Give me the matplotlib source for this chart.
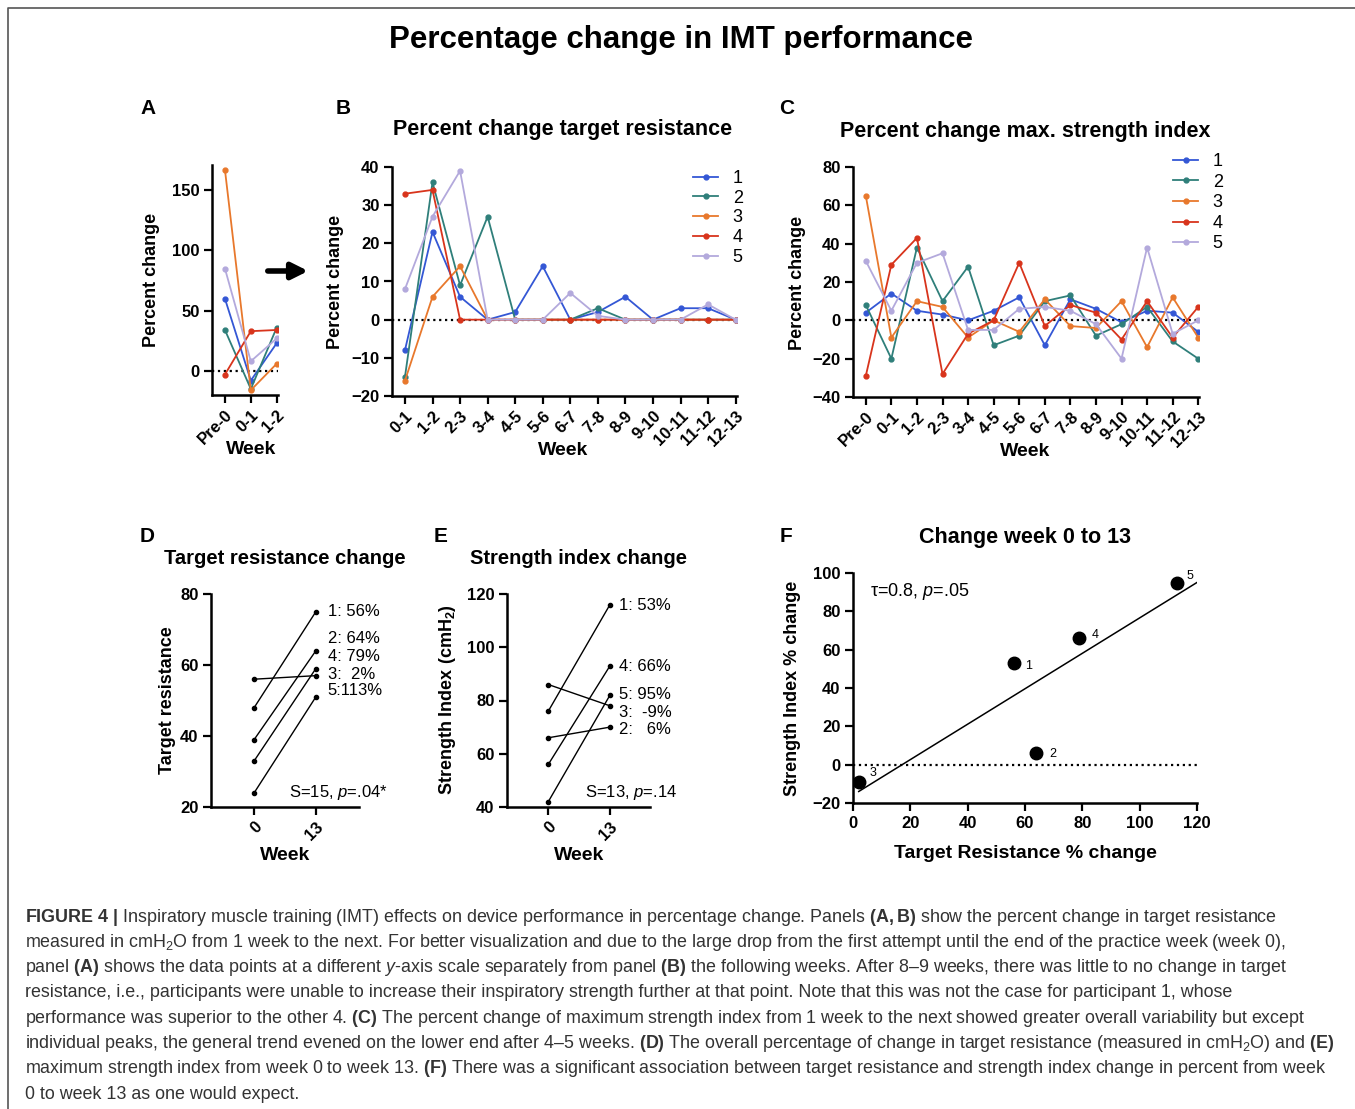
import numpy as np
import matplotlib
matplotlib.use("Agg")
import matplotlib.pyplot as plt
from matplotlib.lines import Line2D

plt.rcParams["font.family"] = ["Liberation Sans", "DejaVu Sans"]
plt.rcParams["mathtext.fontset"] = "custom"
plt.rcParams["mathtext.rm"] = "Liberation Sans"
plt.rcParams["mathtext.it"] = "Liberation Sans:italic"
plt.rcParams["mathtext.bf"] = "Liberation Sans:bold"

# ---------------- data ----------------
participants = ["1", "2", "3", "4", "5"]
colors = ["#3457d5", "#2f7f7a", "#e8782c", "#d8341c", "#b3a9dc"]

weeks = ["Pre-0", "0-1", "1-2", "2-3", "3-4", "4-5", "5-6", "6-7",
         "7-8", "8-9", "9-10", "10-11", "11-12", "12-13"]

# percent change in target resistance, week to week
tr_p1 = [60, -8, 23, 6, 0, 2, 14, 0, 2, 6, 0, 3, 3, 0]
tr_p2 = [34, -15, 36, 9, 27, 0, 0, 0, 3, 0, 0, 0, 0, 0]
tr_p3 = [167, -16, 6, 14, 0, 0, 0, 0, 0, 0, 0, 0, 0, 0]
tr_p4 = [-3, 33, 34, 0, 0, 0, 0, 0, 0, 0, 0, 0, 0, 0]
tr_p5 = [85, 8, 27, 39, 0, 0, 0, 7, 1, 0, 0, 0, 4, 0]

# percent change in max. strength index, week to week
si_p1 = [4, 14, 5, 3, 0, 5, 12, -13, 11, 6, -1, 5, 4, -6]
si_p2 = [8, -20, 38, 10, 28, -13, -8, 10, 13, -8, -2, 7, -11, -20]
si_p3 = [65, -9, 10, 7, -9, 0, -6, 11, -3, -4, 10, -14, 12, -9]
si_p4 = [-29, 29, 43, -28, -7, 0, 30, -3, 8, 4, -10, 10, -9, 7]
si_p5 = [31, 5, 30, 35, -5, -5, 6, 7, 5, -2, -20, 38, -7, 0]

# week 0 vs week 13
tr_week0 = [48, 39, 56, 33, 24]
tr_week13 = [75, 64, 57, 59, 51]
tr_labels = ["1: 56%", "2: 64%", "3:  2%", "4: 79%", "5:113%"]

si_week0 = [76, 66, 86, 56, 42]
si_week13 = [116, 70, 78, 93, 82]
si_labels = ["1: 53%", "2:   6%", "3:  -9%", "4: 66%", "5: 95%"]

tr_pct = [56, 64, 2, 79, 113]
si_pct = [53, 6, -9, 66, 95]

tr_series = [tr_p1, tr_p2, tr_p3, tr_p4, tr_p5]
si_series = [si_p1, si_p2, si_p3, si_p4, si_p5]

# ---------------- layout helpers ----------------
W, H = 1355, 1109
fig = plt.figure(figsize=(W / 100, H / 100), dpi=100)


def fx(x):
    return x / W


def fy(y):
    return 1 - y / H


def add_ax(x0, y0, x1, y1):
    return fig.add_axes([fx(x0), fy(y1), (x1 - x0) / W, (y1 - y0) / H])


def style(ax, size=12):
    for s in ["top", "right"]:
        ax.spines[s].set_visible(False)
    for s in ["left", "bottom"]:
        ax.spines[s].set_linewidth(1.8)
    ax.tick_params(direction="out", length=6, width=1.6, labelsize=size, pad=3)
    for t in ax.get_xticklabels() + ax.get_yticklabels():
        t.set_fontweight("bold")


def rot_xticks(ax, labels):
    ax.set_xticks(range(len(labels)))
    ax.set_xticklabels(labels, rotation=45, ha="right", rotation_mode="anchor")


def label(x, y, s, size=13, rot=0, **kw):
    fig.text(fx(x), fy(y), s, fontsize=size, fontweight="bold", rotation=rot,
             ha="center", va="center", **kw)


# ---------------- titles / letters ----------------
label(681, 40, "Percentage change in IMT performance", size=22.5)
for ch, x, y in [("A", 148, 108), ("B", 343, 108), ("C", 787, 108),
                 ("D", 147, 536), ("E", 441, 536), ("F", 786, 536)]:
    label(x, y, ch, size=15)

# ---------------- panel A ----------------
axA = add_ax(212, 165, 278, 395)
for vals, c in zip(tr_series, colors):
    axA.plot(range(3), vals[:3], color=c, lw=1.3, marker="o", ms=3.5)
axA.axhline(0, color="black", ls=":", lw=1.6, zorder=0)
axA.set_xlim(-0.5, 2.05)
axA.set_ylim(-20, 171)
axA.set_yticks([0, 50, 100, 150])
rot_xticks(axA, weeks[:3])
style(axA)
label(152, 280, "Percent change", rot=90)
label(251, 450, "Week", size=14)

# arrow from A to B
fig.add_artist(matplotlib.patches.FancyArrowPatch(
    (fx(265), fy(271)), (fx(311), fy(271)), transform=fig.transFigure,
    arrowstyle="-|>", mutation_scale=24, lw=4, color="black"))

# ---------------- panel B ----------------
axB = add_ax(392, 167, 737, 396)
handles = []
for vals, c, p in zip(tr_series, colors, participants):
    h, = axB.plot(range(13), vals[1:], color=c, lw=1.3, marker="o", ms=3.5, label=p)
    handles.append(h)
axB.axhline(0, color="black", ls=":", lw=1.6, zorder=0)
axB.set_xlim(-0.47, 12.05)
axB.set_ylim(-20, 40)
axB.set_yticks(range(-20, 41, 10))
rot_xticks(axB, weeks[1:])
style(axB)
axB.legend(handles=handles, loc="upper left", bbox_to_anchor=(fx(693), fy(170)),
           bbox_transform=fig.transFigure, frameon=False, fontsize=13,
           handlelength=1.4, handletextpad=0.8, labelspacing=0.15,
           borderpad=0, borderaxespad=0)
label(563, 130, "Percent change target resistance", size=15.5)
label(335, 282, "Percent change", rot=90)
label(563, 451, "Week", size=14)

# ---------------- panel C ----------------
axC = add_ax(853, 167, 1199, 397)
handles = []
for vals, c, p in zip(si_series, colors, participants):
    h, = axC.plot(range(14), vals, color=c, lw=1.3, marker="o", ms=3.5, label=p)
    handles.append(h)
axC.axhline(0, color="black", ls=":", lw=1.6, zorder=0)
axC.set_xlim(-0.5, 13.03)
axC.set_ylim(-40, 80)
axC.set_yticks(range(-40, 81, 20))
rot_xticks(axC, weeks)
style(axC)
axC.legend(handles=handles, loc="upper left", bbox_to_anchor=(fx(1173), fy(153)),
           bbox_transform=fig.transFigure, frameon=False, fontsize=13,
           handlelength=1.4, handletextpad=0.8, labelspacing=0.2,
           borderpad=0, borderaxespad=0)
label(1025, 131, "Percent change max. strength index", size=15.5)
label(797, 283, "Percent change", rot=90)
label(1025, 452, "Week", size=14)

# ---------------- panel D ----------------
dD = [0, 8.6, 1.1, 8.4, 4.9]   # label nudges (points)
axD = add_ax(211, 594, 359, 807)
for a, b, t, dy in zip(tr_week0, tr_week13, tr_labels, dD):
    axD.plot([0, 1], [a, b], color="black", lw=1, marker="o", ms=3)
    axD.annotate(t, (1, b), xytext=(8.5, dy), textcoords="offset points",
                 fontsize=12, va="center", ha="left", annotation_clip=False)
axD.set_xlim(-0.7, 1.7)
axD.set_ylim(20, 80)
axD.set_yticks([20, 40, 60, 80])
rot_xticks(axD, ["0", "13"])
style(axD)
fig.text(fx(388), fy(792), "S=15, $\\it{p}$=.04*", fontsize=12, ha="right", va="center")
label(285, 558, "Target resistance change", size=14.5)
label(168, 700, "Target resistance", rot=90)
label(285, 856, "Week", size=14)

# ---------------- panel E ----------------
dE = [-0.7, -1.7, -5, -0.7, 0.7]
axE = add_ax(507, 594, 650, 807)
for a, b, t, dy in zip(si_week0, si_week13, si_labels, dE):
    axE.plot([0, 1], [a, b], color="black", lw=1, marker="o", ms=3)
    axE.annotate(t, (1, b), xytext=(6.5, dy), textcoords="offset points",
                 fontsize=12, va="center", ha="left", annotation_clip=False)
axE.set_xlim(-0.67, 1.65)
axE.set_ylim(40, 120)
axE.set_yticks(range(40, 121, 20))
rot_xticks(axE, ["0", "13"])
style(axE)
fig.text(fx(677), fy(792), "S=13, $\\it{p}$=.14", fontsize=12, ha="right", va="center")
label(579, 558, "Strength index change", size=14.5)
label(448, 700, "Strength Index (cmH$_\\mathbf{2}$)", rot=90)
label(579, 855, "Week", size=14)

# ---------------- panel F ----------------
offF = [(8.6, -2), (9.4, -0.7), (8, 6.5), (8.6, 2.4), (7.2, 4.8)]
axF = add_ax(853, 573, 1197, 803)
axF.plot(tr_pct, si_pct, "o", color="black", ms=9, zorder=3)
for x, y, p, off in zip(tr_pct, si_pct, participants, offF):
    axF.annotate(p, (x, y), xytext=off, textcoords="offset points",
                 fontsize=9, va="center", ha="left")
slope, icpt = np.polyfit(tr_pct, si_pct, 1)
xs = np.array([min(tr_pct), 120])
axF.plot(xs, slope * xs + icpt, color="black", lw=1.1)
axF.axhline(0, color="black", ls=":", lw=1.6, zorder=0)
axF.set_xlim(0, 120)
axF.set_ylim(-20, 100)
axF.set_xticks(range(0, 121, 20))
axF.set_yticks(range(-20, 101, 20))
style(axF)
axF.text(0.05, 0.92, "\u03c4=0.8, $\\it{p}$=.05", transform=axF.transAxes,
         fontsize=13, va="center", ha="left")
label(1025, 537, "Change week 0 to 13", size=15.5)
label(793, 688, "Strength Index % change", rot=90)
label(1025, 853, "Target Resistance % change", size=14)

# ---------------- border ----------------
fig.add_artist(Line2D([fx(8), fx(8), 1], [0, fy(8), fy(8)],
                      transform=fig.transFigure, color="#555555", lw=1.2))

# ---------------- caption ----------------
caption = [
    "$\\mathbf{FIGURE\\ 4\\ |}$ Inspiratory muscle training (IMT) effects on device performance in percentage change. Panels $\\mathbf{(A,B)}$ show the percent change in target resistance",
    "measured in cmH$_2$O from 1 week to the next. For better visualization and due to the large drop from the first attempt until the end of the practice week (week 0),",
    "panel $\\mathbf{(A)}$ shows the data points at a different $\\mathit{y}$-axis scale separately from panel $\\mathbf{(B)}$ the following weeks. After 8\u20139 weeks, there was little to no change in target",
    "resistance, i.e., participants were unable to increase their inspiratory strength further at that point. Note that this was not the case for participant 1, whose",
    "performance was superior to the other 4. $\\mathbf{(C)}$ The percent change of maximum strength index from 1 week to the next showed greater overall variability but except",
    "individual peaks, the general trend evened on the lower end after 4\u20135 weeks. $\\mathbf{(D)}$ The overall percentage of change in target resistance (measured in cmH$_2$O) and $\\mathbf{(E)}$",
    "maximum strength index from week 0 to week 13. $\\mathbf{(F)}$ There was a significant association between target resistance and strength index change in percent from week",
    "0 to week 13 as one would expect.",
]
for i, line in enumerate(caption):
    fig.text(fx(25), fy(917 + i * 25.3), line, fontsize=12.9, color="#333333",
             ha="left", va="center")

fig.savefig("out.png", dpi=100)
